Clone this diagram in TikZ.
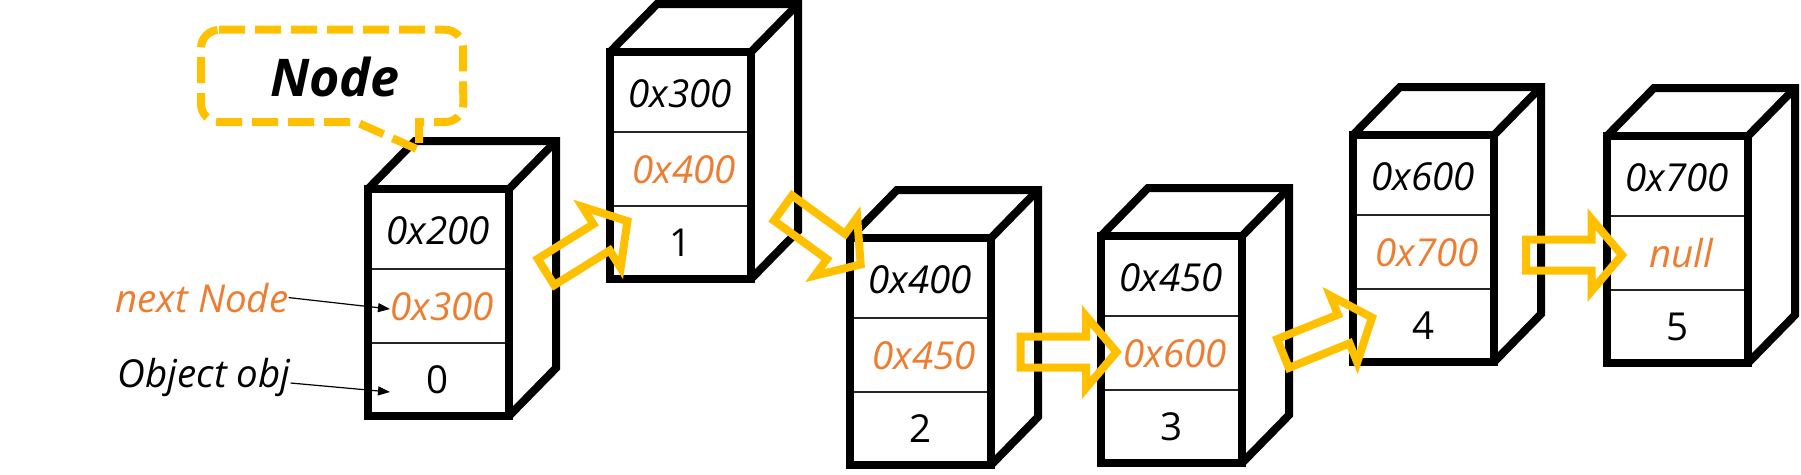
\documentclass[tikz,border=0pt]{standalone}
\usepackage{fontspec}
\setmainfont{Open Sans}
\usetikzlibrary{arrows.meta,calc}
\definecolor{ppyellow}{HTML}{FFC000}
\definecolor{pporange}{HTML}{ED7D31}
\tikzset{
  cubefront/.style={draw=black, line width=8pt, line join=miter, fill=white,
    minimum width=141pt, minimum height=227pt, inner sep=0pt, outer sep=0pt},
  cubeedge/.style={draw=black, line width=8pt, line join=miter},
  divider/.style={draw=black!85, line width=2pt},
  addr/.style={font=\fontsize{38.5}{42}\selectfont\itshape, inner sep=0pt, anchor=base},
  nextaddr/.style={addr, text=pporange},
  val/.style={font=\fontsize{38.5}{42}\selectfont, inner sep=0pt, anchor=base},
  blockarr/.style={draw=ppyellow, line width=8pt, line join=miter},
  calloutline/.style={draw=ppyellow, line width=8pt, dash pattern=on 26pt off 10pt},
  lbltext/.style={font=\fontsize{38.5}{42}\selectfont\itshape, inner sep=0pt, anchor=base},
  thinptr/.style={draw=black, line width=1.2pt, -{Triangle[length=12pt,width=9pt]}},
}
\newcommand{\memcube}[6]{%
  \node[cubefront] (#1) at ({#2+70.5},{#3+113.5}) {};
  \draw[cubeedge] (#1.north west) -- ++(47,-48) -- ++(141,0) -- ++(0,227) -- (#1.south east);
  \draw[cubeedge] (#1.north east) -- ++(47,-48);
  \draw[divider] ($(#1.north west)+(4,80)$) -- ($(#1.north east)+(-4,80)$);
  \draw[divider] ($(#1.north west)+(4,154)$) -- ($(#1.north east)+(-4,154)$);
  \node[addr] (#1-addr) at ({#2+70},{#3+55.5}) {#4};
  \node[nextaddr] (#1-next) at ({#2+74},{#3+131.5}) {#5};
  \node[val] (#1-val) at ({#2+70},{#3+204.5}) {#6};
}
\newcommand{\blockarrow}[2]{%
  \draw[blockarr, shift={(#1)}, rotate=#2] (0,15.5) -- (65.5,15.5) -- (65.5,36) -- (96,0)
    -- (65.5,-36) -- (65.5,-15.5) -- (0,-15.5) -- cycle;
}
\begin{document}
\begin{tikzpicture}[x=1pt,y=-1pt]
\useasboundingbox (0,0) rectangle (1801,474);
% memory cubes
\memcube{b0}{368}{189}{0x200}{0x300}{0}
\memcube{b1}{610}{52}{0x300}{0x400}{1}
\memcube{b2}{850}{238}{0x400}{0x450}{2}
\memcube{b3}{1101}{236}{0x450}{0x600}{3}
\memcube{b4}{1353}{135}{0x600}{0x700}{4}
\memcube{b5}{1607}{136}{0x700}{null}{5}
% labels
\node[lbltext, text=pporange] (nextlbl) at (202,312) {next Node};
\node[lbltext] (objlbl) at (204,387) {Object obj};
\coordinate (nexttip) at (390,309);
\coordinate (objtip) at (390,392);
\draw[thinptr] (nextlbl.east) -- (nexttip);
\draw[thinptr] ($(objlbl.base east)+(0,-4)$) -- (objtip);
% callout
\draw[calloutline] (219,29.7) -- (445,29.7) arc[start angle=90,end angle=0,radius=18pt]
  -- (463.3,104) arc[start angle=0,end angle=-90,radius=18pt]
  -- (419,122) -- (419,150) -- (356,122)
  -- (219,122) arc[start angle=-90,end angle=-180,radius=18pt]
  -- (201,48) arc[start angle=180,end angle=90,radius=18pt] -- cycle;
\node[font=\fontsize{52}{56}\selectfont\bfseries\itshape, inner sep=0pt] (calloutlbl) at (335,77) {Node};
% block arrows between cubes
\coordinate (t01) at (546,272);
\coordinate (t12) at (783,208);
\coordinate (t23) at (1020.5,352);
\coordinate (t34) at (1283,353.5);
\coordinate (t45) at (1526,255);
\blockarrow{t01}{32}
\blockarrow{t12}{-36}
\blockarrow{t23}{0}
\blockarrow{t34}{22}
\blockarrow{t45}{0}
\end{tikzpicture}
\end{document}
